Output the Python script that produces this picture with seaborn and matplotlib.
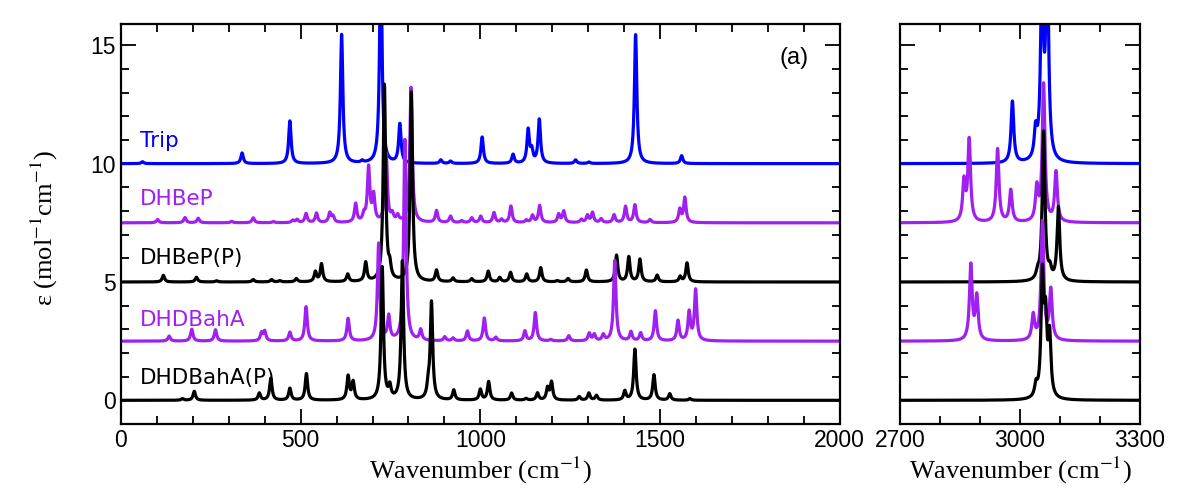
import numpy as np
import pandas as pd
import matplotlib
matplotlib.use("Agg")
import matplotlib.pyplot as plt
from matplotlib.ticker import MultipleLocator
import seaborn as sns

# peak positions (cm-1) and peak heights
trip_pos = [60, 337, 470, 614, 671, 723, 776, 890, 917, 1005, 1091, 1133, 1143, 1164,
            1265, 1302, 1432, 1560, 2981, 3039, 3055, 3068]
trip_amp = [0.08, 0.45, 1.8, 5.45, 0.08, 9.0, 1.65, 0.15, 0.1, 1.12, 0.38, 1.4, 0.5, 1.85,
            0.15, 0.06, 5.45, 0.33, 2.6, 1.15, 8.0, 9.0]

dhbep_pos = [102, 178, 215, 308, 368, 424, 478, 490, 515, 544, 581, 590, 653, 676, 689, 703,
             738, 755, 770, 807, 878, 917, 948, 976, 1001, 1038, 1059, 1085, 1128, 1145,
             1165, 1218, 1232, 1281, 1298, 1312, 1336, 1372, 1404, 1430, 1472, 1555, 1569,
             2860, 2873, 2944, 2977, 3042, 3059, 3090]
dhbep_amp = [0.14, 0.22, 0.19, 0.06, 0.21, 0.05, 0.1, 0.13, 0.38, 0.4, 0.4, 0.25, 0.78, 0.3, 2.3, 1.1,
             2.9, 0.3, 0.25, 5.7, 0.5, 0.27, 0.08, 0.2, 0.27, 0.42, 0.13, 0.7, 0.1, 0.3,
             0.72, 0.35, 0.48, 0.13, 0.3, 0.42, 0.16, 0.33, 0.68, 0.75, 0.13, 0.55, 1.05,
             1.67, 3.45, 3.1, 1.35, 1.4, 5.8, 2.1]

dhbepp_pos = [118, 210, 266, 368, 419, 442, 488, 541, 558, 631, 681, 733, 748, 808, 878, 924,
              976, 1022, 1054, 1084, 1129, 1168, 1214, 1244, 1295, 1379, 1413, 1444, 1492,
              1556, 1575, 3044, 3059, 3075, 3096]
dhbepp_amp = [0.28, 0.2, 0.05, 0.1, 0.1, 0.05, 0.14, 0.42, 0.75, 0.32, 0.8, 8.3, 0.5, 8.0, 0.48, 0.16,
              0.13, 0.45, 0.18, 0.4, 0.33, 0.6, 0.05, 0.14, 0.5, 1.12, 1.05, 0.95, 0.28,
              0.22, 0.8, 0.3, 6.3, 0.4, 3.1]

dhdbaha_pos = [134, 197, 263, 391, 400, 470, 515, 632, 717, 745, 790, 834, 901, 924, 964, 1011,
               1043, 1124, 1153, 1196, 1246, 1303, 1317, 1342, 1374, 1419, 1446, 1487, 1550,
               1581, 1599, 2877, 2892, 3033, 3056, 3077]
dhdbaha_amp = [0.21, 0.5, 0.48, 0.33, 0.4, 0.37, 1.45, 0.95, 4.1, 1.0, 8.5, 0.45, 0.17, 0.12, 0.42, 0.97,
               0.15, 0.42, 1.2, 0.06, 0.22, 0.32, 0.27, 0.25, 3.4, 0.38, 0.33, 1.27, 0.85,
               1.2, 2.15, 3.18, 1.83, 1.05, 5.0, 2.1]

dhdbahap_pos = [171, 204, 385, 417, 470, 516, 632, 646, 727, 748, 783, 855, 864, 926, 1000, 1023,
                1087, 1127, 1159, 1187, 1198, 1275, 1302, 1323, 1402, 1430, 1483, 1527, 1583,
                3040, 3056, 3064, 3074]
dhdbahap_amp = [0.07, 0.38, 0.3, 0.93, 0.5, 1.12, 1.0, 0.75, 5.6, 0.5, 5.85, 0.5, 4.1, 0.42, 0.45, 0.78,
                0.3, 0.07, 0.3, 0.5, 0.75, 0.15, 0.3, 0.2, 0.38, 2.15, 1.07, 0.27, 0.07,
                0.5, 5.0, 3.0, 2.5]

names = ["Trip", "DHBeP", "DHBeP(P)", "DHDBahA", "DHDBahA(P)"]
offsets = [10, 7.5, 5, 2.5, 0]
peaks = [(trip_pos, trip_amp), (dhbep_pos, dhbep_amp), (dhbepp_pos, dhbepp_amp),
         (dhdbaha_pos, dhdbaha_amp), (dhdbahap_pos, dhdbahap_amp)]
colors = {"Trip": "#0000ff", "DHBeP": "#a020f0", "DHBeP(P)": "black",
          "DHDBahA": "#a020f0", "DHDBahA(P)": "black"}
label_y = [10.72, 8.27, 5.74, 3.12, 0.68]

hwhm = 4.0  # lorentzian half width


def spectrum(x, pos, amp):
    d = x[:, None] - np.asarray(pos)[None, :]
    return (np.asarray(amp) * hwhm**2 / (d**2 + hwhm**2)).sum(axis=1)


def build(x):
    frames = []
    for name, off, (pos, amp) in zip(names, offsets, peaks):
        frames.append(pd.DataFrame({"wn": x, "eps": spectrum(x, pos, amp) + off, "mol": name}))
    return pd.concat(frames, ignore_index=True)


df_low = build(np.arange(0, 2000.01, 0.5))
df_high = build(np.arange(2700, 3300.01, 0.25))

sns.set_style("ticks")
plt.rcParams["font.family"] = ["DejaVu Sans"]
plt.rcParams["mathtext.fontset"] = "stix"
plt.rcParams["axes.linewidth"] = 1.6
for key in ["text.color", "axes.labelcolor", "xtick.color", "ytick.color", "axes.edgecolor"]:
    plt.rcParams[key] = "black"

fig = plt.figure(figsize=(12, 5), dpi=100)
ax1 = fig.add_axes([0.1008, 0.152, 0.599, 0.8])
ax2 = fig.add_axes([0.75, 0.152, 0.2, 0.8])

for ax, df in [(ax1, df_low), (ax2, df_high)]:
    sns.lineplot(data=df, x="wn", y="eps", hue="mol", hue_order=names, palette=colors,
                 estimator=None, sort=False, linewidth=2.3, legend=False, ax=ax)
    ax.set_ylim(-1, 15.9)
    ax.yaxis.set_major_locator(MultipleLocator(5))
    ax.yaxis.set_minor_locator(MultipleLocator(1))
    ax.xaxis.set_minor_locator(MultipleLocator(100))
    ax.tick_params(which="both", direction="in", top=True, right=True, width=1.3)
    ax.tick_params(which="major", length=11)
    ax.tick_params(which="minor", length=6)

ax1.set_xlim(0, 2000)
ax1.xaxis.set_major_locator(MultipleLocator(500))
ax2.set_xlim(2700, 3300)
ax2.set_xticks([2700, 3000, 3300])
ax2.set_yticklabels([])

for ax in (ax1, ax2):
    for lab in ax.get_xticklabels() + ax.get_yticklabels():
        lab.set_family("Liberation Sans")
        lab.set_fontsize(16.5)
    ax.set_xlabel("Wavenumber (cm$^{-1}$)", family="Liberation Serif", fontsize=19, labelpad=2)
ax2.set_ylabel("")
ax1.set_ylabel(r"ε (mol$^{-1}$cm$^{-1}$)", family="Liberation Serif", fontsize=19)
ax1.yaxis.set_label_coords(-0.085, 0.49)

for name, ly in zip(names, label_y):
    ax1.text(53, ly, name, color=colors[name], fontsize=15.5, va="baseline")

ax1.text(0.937, 0.915, "(a)", transform=ax1.transAxes, fontsize=17,
         family="Liberation Sans", ha="center", va="center")

fig.savefig("out.png", dpi=100)
